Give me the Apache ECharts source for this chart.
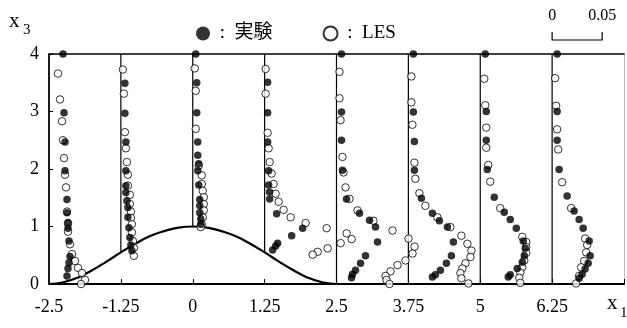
<!DOCTYPE html>
<html>
<head>
<meta charset="utf-8">
<script src="https://cdn.jsdelivr.net/npm/echarts@6/dist/echarts.min.js"></script>
<style>
  html, body { margin: 0; background: #fff; }
  #chart { width: 627px; height: 328px; }
</style>
</head>
<body>
<div id="chart"></div>
<script>
// measuring stations along x1
const stations = [-2.5, -1.25, 0, 1.25, 2.5, 3.75, 5, 6.25];

// hill profile
const hillX = [-2.5, -2.25, -2, -1.75, -1.5, -1.25, -1, -0.75, -0.5, -0.25, 0,
  0.25, 0.5, 0.75, 1, 1.25, 1.5, 1.75, 2, 2.25, 2.5, 7.5];
const hillZ = [0, 0.03, 0.11, 0.24, 0.39, 0.55, 0.7, 0.83, 0.92, 0.98, 1,
  0.98, 0.92, 0.83, 0.7, 0.55, 0.39, 0.24, 0.11, 0.03, 0, 0];

// profiles: [value, x3]; value offset from station line (0.05 = scale bar)
const expM250 = [[0.014, 4.0], [0.015, 2.98], [0.016, 2.47], [0.016, 1.97], [0.018, 1.47],
  [0.018, 1.24], [0.019, 1.07], [0.019, 0.97], [0.020, 0.75], [0.021, 0.48],
  [0.020, 0.37], [0.019, 0.27], [0.018, 0.14]];
const lesM250 = [[0.009, 3.66], [0.011, 3.21], [0.013, 2.83], [0.014, 2.50], [0.015, 2.19],
  [0.016, 1.90], [0.017, 1.68], [0.018, 1.26], [0.019, 1.05], [0.019, 0.91],
  [0.021, 0.69], [0.023, 0.52], [0.026, 0.40], [0.029, 0.28], [0.033, 0.19],
  [0.036, 0.07], [0.032, 0.0]];

const expM125 = [[0.004, 3.49], [0.004, 2.97], [0.005, 2.47], [0.005, 1.97], [0.005, 1.71],
  [0.005, 1.59], [0.006, 1.45], [0.007, 1.33], [0.007, 1.16], [0.008, 0.98],
  [0.009, 0.81], [0.010, 0.68], [0.011, 0.58]];
const lesM125 = [[0.002, 3.73], [0.003, 3.31], [0.004, 2.64], [0.005, 2.36], [0.006, 2.12],
  [0.007, 1.90], [0.007, 1.71], [0.009, 1.55], [0.009, 1.39], [0.010, 1.26],
  [0.010, 1.15], [0.011, 1.04], [0.011, 0.90], [0.012, 0.75], [0.013, 0.63],
  [0.013, 0.49]];

const exp000 = [[0.003, 4.0], [0.004, 3.50], [0.004, 2.98], [0.005, 2.47], [0.005, 2.24],
  [0.006, 2.09], [0.005, 1.97], [0.006, 1.72], [0.007, 1.47], [0.007, 1.36],
  [0.007, 1.24], [0.008, 1.13], [0.008, 1.04]];
const les000 = [[0.002, 3.75], [0.003, 3.36], [0.003, 2.70], [0.006, 2.06], [0.009, 1.89],
  [0.009, 1.74], [0.010, 1.62], [0.011, 1.51], [0.011, 1.39], [0.011, 1.28],
  [0.010, 1.16], [0.009, 1.04], [0.008, 0.99]];

const exp125 = [[0.003, 3.51], [0.003, 2.98], [0.003, 2.47], [0.004, 1.97], [0.004, 1.72],
  [0.005, 1.60], [0.005, 1.48], [0.012, 1.22], [0.038, 0.97], [0.027, 0.84],
  [0.013, 0.71], [0.011, 0.66], [0.008, 0.59]];
const les125 = [[0.001, 3.74], [0.001, 3.31], [0.003, 2.63], [0.004, 2.36], [0.005, 2.12],
  [0.007, 1.92], [0.009, 1.74], [0.011, 1.57], [0.014, 1.43], [0.019, 1.29],
  [0.026, 1.16], [0.041, 1.06], [0.062, 0.97], [0.082, 0.88], [0.087, 0.78],
  [0.076, 0.71], [0.063, 0.62], [0.053, 0.56], [0.048, 0.51]];

const exp250 = [[0.005, 4.0], [0.005, 2.99], [0.005, 2.50], [0.006, 1.98], [0.010, 1.48],
  [0.023, 1.23], [0.033, 1.11], [0.039, 0.99], [0.041, 0.73], [0.029, 0.49],
  [0.024, 0.36], [0.019, 0.24], [0.016, 0.17], [0.015, 0.11]];
const les250 = [[0.003, 3.69], [0.003, 3.23], [0.004, 2.85], [0.006, 2.21], [0.007, 1.94],
  [0.009, 1.68], [0.013, 1.48], [0.021, 1.28], [0.037, 1.10], [0.056, 0.93],
  [0.072, 0.79], [0.078, 0.65], [0.076, 0.53], [0.069, 0.41], [0.061, 0.33],
  [0.054, 0.22], [0.049, 0.14], [0.050, 0.07], [0.053, 0.0]];

const exp375 = [[0.005, 4.0], [0.005, 2.99], [0.006, 2.48], [0.006, 1.98], [0.013, 1.49],
  [0.024, 1.23], [0.031, 1.10], [0.039, 0.99], [0.045, 0.73], [0.043, 0.49],
  [0.038, 0.36], [0.032, 0.24], [0.027, 0.16], [0.024, 0.12]];
const les375 = [[0.003, 3.61], [0.003, 3.16], [0.004, 2.77], [0.006, 2.11], [0.007, 1.83],
  [0.011, 1.58], [0.017, 1.36], [0.029, 1.16], [0.042, 0.99], [0.053, 0.84],
  [0.059, 0.70], [0.063, 0.58], [0.062, 0.47], [0.057, 0.36], [0.054, 0.27],
  [0.052, 0.19], [0.053, 0.10], [0.060, 0.01]];

const exp500 = [[0.005, 4.0], [0.006, 3.0], [0.006, 2.50], [0.007, 1.99], [0.014, 1.51],
  [0.024, 1.25], [0.030, 1.12], [0.036, 0.97], [0.043, 0.75], [0.045, 0.62],
  [0.044, 0.49], [0.042, 0.38], [0.037, 0.27], [0.030, 0.16], [0.028, 0.12]];
const les500 = [[0.004, 3.57], [0.005, 3.11], [0.006, 2.72], [0.006, 2.37], [0.008, 2.07],
  [0.010, 1.78], [0.020, 1.32], [0.042, 0.82], [0.046, 0.73], [0.046, 0.64],
  [0.046, 0.54], [0.044, 0.41], [0.042, 0.29], [0.040, 0.20], [0.039, 0.11],
  [0.040, 0.02]];

const exp625 = [[0.005, 4.0], [0.005, 3.0], [0.005, 2.50], [0.007, 1.99], [0.015, 1.53],
  [0.022, 1.27], [0.027, 1.12], [0.031, 0.97], [0.037, 0.75], [0.038, 0.49],
  [0.036, 0.36], [0.033, 0.26], [0.030, 0.17], [0.027, 0.10]];
const les625 = [[0.003, 3.58], [0.004, 3.10], [0.005, 2.69], [0.006, 2.34], [0.010, 1.77],
  [0.019, 1.32], [0.033, 0.79], [0.035, 0.68], [0.034, 0.55], [0.032, 0.40],
  [0.029, 0.29], [0.027, 0.14], [0.024, 0.01]];

const expProfiles = [expM250, expM125, exp000, exp125, exp250, exp375, exp500, exp625];
const lesProfiles = [lesM250, lesM125, les000, les125, les250, les375, les500, les625];

// x1 units per unit of profile value
const K = 17.4;
const SCALE_VALUE = 0.05;
const FONT = "'Liberation Serif', 'Noto Sans CJK JP', serif";

function place(profiles) {
  const out = [];
  profiles.forEach((p, i) => {
    p.forEach(([v, z]) => out.push([stations[i] + v * K, z]));
  });
  return out;
}

function hillAt(x) {
  const i = hillX.indexOf(x);
  return i >= 0 ? hillZ[i] : 0;
}

const chart = echarts.init(document.getElementById('chart'));

const stationSeries = stations.map(s => ({
  type: 'line',
  data: [[s, hillAt(s)], [s, 4]],
  symbol: 'none',
  silent: true,
  lineStyle: { color: '#000', width: 1.2 },
  z: 1
}));

chart.setOption({
  animation: false,
  grid: { left: 49, right: 1, top: 54, bottom: 44 },
  legend: {
    left: 191,
    top: 19,
    icon: 'circle',
    itemWidth: 14,
    itemHeight: 14,
    itemGap: 50,
    selectedMode: false,
    data: ['実験', 'LES'],
    formatter: n => ' :  ' + n,
    textStyle: { fontFamily: FONT, fontSize: 19, color: '#000' }
  },
  xAxis: [{
    type: 'value',
    min: -2.5,
    max: 7.5,
    interval: 1.25,
    splitLine: { show: false },
    axisLine: { onZero: false, lineStyle: { color: '#000', width: 2 } },
    axisTick: { inside: true, length: 5, lineStyle: { color: '#000', width: 1 } },
    axisLabel: {
      margin: 14,
      color: '#000',
      fontFamily: FONT,
      fontSize: 18,
      formatter: v => (v >= 7.5 ? '' : String(v))
    }
  }, {
    type: 'value',
    position: 'top',
    min: -2.5,
    max: 7.5,
    splitLine: { show: false },
    axisLine: { show: true, onZero: false, lineStyle: { color: '#000', width: 1.5 } },
    axisTick: { show: false },
    axisLabel: { show: false }
  }],
  yAxis: [{
    type: 'value',
    min: 0,
    max: 4,
    interval: 1,
    splitLine: { show: false },
    axisLine: { show: true, onZero: false, lineStyle: { color: '#000', width: 1.5 } },
    axisTick: { show: true, inside: true, length: 4, lineStyle: { color: '#000' } },
    axisLabel: { margin: 10, color: '#000', fontFamily: FONT, fontSize: 18 }
  }, {
    type: 'value',
    position: 'right',
    min: 0,
    max: 4,
    splitLine: { show: false },
    axisLine: { show: true, onZero: false, lineStyle: { color: '#bbb', width: 1 } },
    axisTick: { show: false },
    axisLabel: { show: false }
  }],
  series: [
    {
      type: 'line',
      data: hillX.map((x, i) => [x, hillZ[i]]),
      smooth: true,
      symbol: 'none',
      silent: true,
      lineStyle: { color: '#000', width: 2.2 },
      z: 2
    },
    ...stationSeries,
    {
      name: 'LES',
      type: 'scatter',
      data: place(lesProfiles),
      symbol: 'circle',
      symbolSize: 7.5,
      itemStyle: { color: '#fff', borderColor: '#000', borderWidth: 1 },
      z: 3
    },
    {
      name: '実験',
      type: 'scatter',
      data: place(expProfiles),
      symbol: 'circle',
      symbolSize: 7.5,
      itemStyle: { color: '#000' },
      z: 4
    }
  ]
});

// scale bar above the last station, axis labels x3 and x1
const p0 = chart.convertToPixel({ xAxisIndex: 0 }, stations[7]);
const p1 = chart.convertToPixel({ xAxisIndex: 0 }, stations[7] + SCALE_VALUE * K);
const barY = 40;
chart.setOption({
  graphic: [
    {
      type: 'polyline',
      shape: { points: [[p0, barY - 8], [p0, barY], [p1, barY], [p1, barY - 8]] },
      style: { stroke: '#000', lineWidth: 1.2, fill: null }
    },
    {
      type: 'text', x: p0, y: 16,
      style: { text: '0', font: '16px ' + FONT, fill: '#000', align: 'center', verticalAlign: 'middle' }
    },
    {
      type: 'text', x: p1, y: 16,
      style: { text: String(SCALE_VALUE), font: '16px ' + FONT, fill: '#000', align: 'center', verticalAlign: 'middle' }
    },
    {
      type: 'text', x: 9, y: 21.5,
      style: { text: 'x', font: '21px ' + FONT, fill: '#000', align: 'left', verticalAlign: 'middle' }
    },
    {
      type: 'text', x: 23, y: 30,
      style: { text: '3', font: '15px ' + FONT, fill: '#000', align: 'left', verticalAlign: 'middle' }
    },
    {
      type: 'text', x: 607, y: 303.5,
      style: { text: 'x', font: '21px ' + FONT, fill: '#000', align: 'left', verticalAlign: 'middle' }
    },
    {
      type: 'text', x: 620, y: 313,
      style: { text: '1', font: '15px ' + FONT, fill: '#000', align: 'left', verticalAlign: 'middle' }
    }
  ]
});
</script>
</body>
</html>
